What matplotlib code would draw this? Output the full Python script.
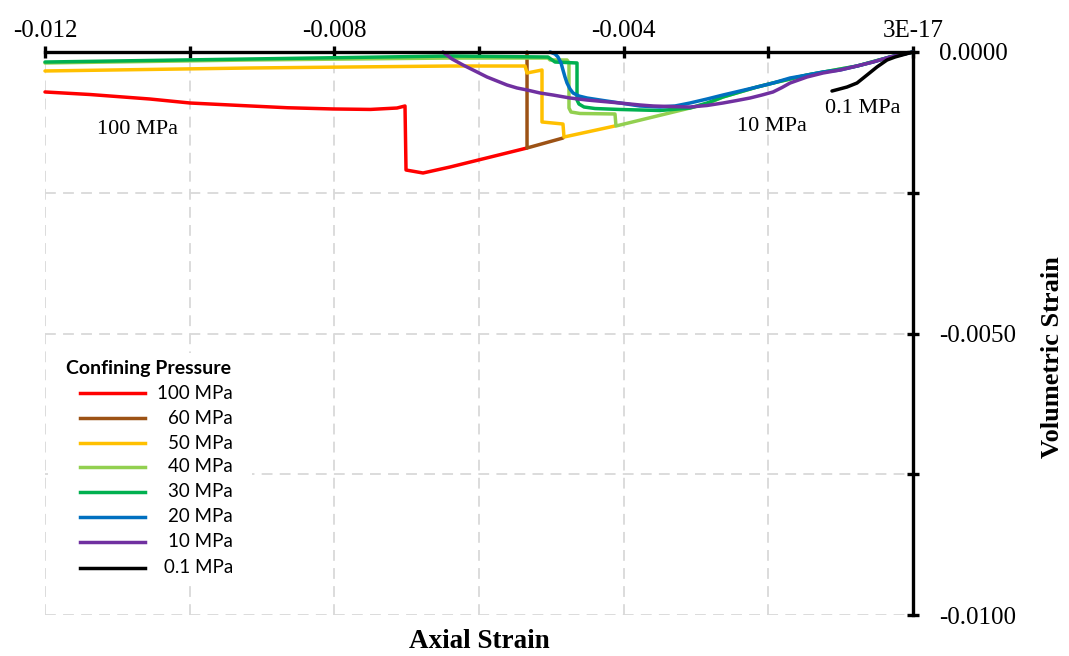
import matplotlib
matplotlib.use("Agg")
import matplotlib.pyplot as plt
from matplotlib.lines import Line2D
from matplotlib.patches import Rectangle

# Axial strain (x) / volumetric strain (y) for each confining pressure
p100_x = [-0.012000, -0.011378, -0.010550, -0.009995, -0.009300, -0.008650, -0.008018,
          -0.007500, -0.007134, -0.007023, -0.007009, -0.006774, -0.006401, -0.005336]
p100_y = [-0.000710, -0.000755, -0.000835, -0.000906, -0.000950, -0.000990, -0.001012,
          -0.001020, -0.000995, -0.000959, -0.002096, -0.002149, -0.002043, -0.001705]

p60_x = [-0.005336, -0.005336, -0.004839]
p60_y = [0.000000, -0.001705, -0.001528]

p50_x = [-0.012000, -0.009166, -0.006401, -0.005364, -0.005336, -0.005129, -0.005129,
         -0.004839, -0.004825, -0.004120]
p50_y = [-0.000337, -0.000284, -0.000249, -0.000249, -0.000373, -0.000320, -0.001243,
         -0.001279, -0.001510, -0.001314]

p40_x = [-0.012000, -0.009166, -0.006401, -0.005046, -0.005018, -0.004783, -0.004756,
         -0.004756, -0.004728, -0.004604, -0.004120, -0.004106, -0.003083, -0.002848,
         -0.002627, -0.002392, -0.002157, -0.001935, -0.001465, -0.000774, -0.000318,
         0.000000]
p40_y = [-0.000195, -0.000142, -0.000107, -0.000107, -0.000142, -0.000142, -0.000195,
         -0.000995, -0.001066, -0.001092, -0.001101, -0.001314, -0.000995, -0.000920,
         -0.000799, -0.000710, -0.000622, -0.000551, -0.000409, -0.000249, -0.000089,
         0.000000]

p30_x = [-0.012000, -0.009166, -0.006401, -0.005046, -0.004949, -0.004645, -0.004645,
         -0.004618, -0.004548, -0.004396, -0.004051, -0.003498, -0.003083, -0.002848,
         -0.002627, -0.002392, -0.002157, -0.001935, -0.001465, -0.000774, -0.000318,
         0.000000]
p30_y = [-0.000178, -0.000124, -0.000071, -0.000089, -0.000178, -0.000195, -0.000853,
         -0.000924, -0.000977, -0.001004, -0.001021, -0.001039, -0.000995, -0.000906,
         -0.000799, -0.000710, -0.000622, -0.000551, -0.000409, -0.000249, -0.000089,
         0.000000]

p20_x = [-0.005018, -0.004949, -0.004908, -0.004866, -0.004839, -0.004811, -0.004783,
         -0.004742, -0.004700, -0.004618, -0.004507, -0.004286, -0.004051, -0.003774,
         -0.003498, -0.003290, -0.003083, -0.002848, -0.002627, -0.002392, -0.002157,
         -0.001935, -0.001700, -0.001465, -0.001244, -0.001009, -0.000774, -0.000553,
         -0.000318, 0.000000]
p20_y = [0.000000, -0.000036, -0.000089, -0.000195, -0.000320, -0.000444, -0.000551,
         -0.000657, -0.000728, -0.000782, -0.000817, -0.000861, -0.000906, -0.000959,
         -0.000977, -0.000959, -0.000906, -0.000835, -0.000764, -0.000693, -0.000622,
         -0.000551, -0.000462, -0.000409, -0.000355, -0.000320, -0.000249, -0.000178,
         -0.000089, 0.000000]

p10_x = [-0.006498, -0.006373, -0.006221, -0.006055, -0.005889, -0.005751, -0.005613,
         -0.005475, -0.005336, -0.005157, -0.004977, -0.004742, -0.004507, -0.004286,
         -0.004051, -0.003774, -0.003594, -0.003359, -0.003083, -0.002848, -0.002627,
         -0.002433, -0.002253, -0.002088, -0.001935, -0.001811, -0.001700, -0.001465,
         -0.001244, -0.001009, -0.000774, -0.000553, -0.000318, 0.000000]
p10_y = [0.000000, -0.000124, -0.000231, -0.000337, -0.000444, -0.000515, -0.000586,
         -0.000639, -0.000675, -0.000728, -0.000764, -0.000817, -0.000853, -0.000879,
         -0.000906, -0.000941, -0.000959, -0.000968, -0.000977, -0.000950, -0.000906,
         -0.000861, -0.000817, -0.000764, -0.000710, -0.000631, -0.000551, -0.000444,
         -0.000373, -0.000320, -0.000249, -0.000178, -0.000089, 0.000000]

p01_x = [-0.001120, -0.000912, -0.000774, -0.000636, -0.000498, -0.000359, -0.000249, 0.000000]
p01_y = [-0.000693, -0.000622, -0.000551, -0.000409, -0.000266, -0.000142, -0.000089, 0.000000]

series_labels = ["100 MPa", "60 MPa", "50 MPa", "40 MPa", "30 MPa", "20 MPa", "10 MPa", "0.1 MPa"]
series_colors = ["#FF0000", "#9C5215", "#FFC000", "#92D050", "#00B050", "#0070C0", "#7030A0", "#000000"]
series_data = [(p100_x, p100_y), (p60_x, p60_y), (p50_x, p50_y), (p40_x, p40_y),
               (p30_x, p30_y), (p20_x, p20_y), (p10_x, p10_y), (p01_x, p01_y)]

x_ticks = [-0.012, -0.010, -0.008, -0.006, -0.004, -0.002, 0.0]
x_tick_labels = ["-0.012", "", "-0.008", "", "-0.004", "", "3E-17"]
y_ticks = [0.0, -0.0025, -0.005, -0.0075, -0.01]
y_tick_labels = ["0.0000", "", "-0.0050", "", "-0.0100"]

curve_notes = [("100 MPa", -0.010728, -0.001385),
               ("10 MPa", -0.001949, -0.001332),
               ("0.1 MPa", -0.000691, -0.000995)]

SERIF = "Liberation Serif"
SANS = "Lato"

fig = plt.figure(figsize=(10.69, 6.56), dpi=100)
ax = fig.add_axes([45 / 1069, 41 / 656, 868 / 1069, 563 / 656])

ax.set_xlim(-0.012, 0.0)
ax.set_ylim(-0.01, 0.0)

# grid
for xv in x_ticks[:-1]:
    ax.axvline(xv, color="#D9D9D9", lw=1.3, dashes=(6, 4), zorder=0)
for yv in y_ticks[1:]:
    ax.axhline(yv, color="#D9D9D9", lw=1.3, dashes=(6, 4), zorder=0)

# curves
for (xs, ys), c in zip(series_data, series_colors):
    ax.plot(xs, ys, color=c, lw=2.5, solid_joinstyle="round", solid_capstyle="round",
            clip_on=False, zorder=3)

# spines: axes drawn at top and right
for side in ("left", "bottom"):
    ax.spines[side].set_visible(False)
for side in ("top", "right"):
    ax.spines[side].set_linewidth(2.4)
    ax.spines[side].set_color("black")
    ax.spines[side].set_zorder(4)

ax.xaxis.set_ticks_position("top")
ax.xaxis.set_label_position("bottom")
ax.yaxis.set_ticks_position("right")
ax.yaxis.set_label_position("right")
ax.set_xticks(x_ticks)
ax.set_xticklabels(x_tick_labels, fontfamily=SERIF, fontsize=18)
ax.set_yticks(y_ticks)
ax.set_yticklabels(y_tick_labels, fontfamily=SERIF, fontsize=18)
ax.tick_params(axis="x", direction="inout", length=9, width=2.4, pad=3)
ax.tick_params(axis="y", direction="inout", length=9, width=2.4, pad=14)

ax.set_xlabel("Axial Strain", fontfamily=SERIF, fontsize=19.5, fontweight="bold", labelpad=10)
ax.set_ylabel("Volumetric Strain", fontfamily=SERIF, fontsize=19, fontweight="bold")
ax.yaxis.set_label_coords(1.148, 0.458)

for txt, xv, yv in curve_notes:
    ax.text(xv, yv, txt, fontfamily=SERIF, fontsize=16, ha="center", va="center", zorder=5)

# legend block
ax.add_patch(Rectangle((0.003, 0.055), 0.235, 0.41, transform=ax.transAxes,
                       facecolor="white", edgecolor="none", zorder=2))
ax.text(0.0242, 0.4387, "Confining Pressure", transform=ax.transAxes, fontfamily=SANS,
        fontsize=14, fontweight="bold", ha="left", va="center", zorder=6)
leg_y = [0.3943, 0.3499, 0.3055, 0.2629, 0.2185, 0.1741, 0.1297, 0.0835]
for lab, c, fy in zip(series_labels, series_colors, leg_y):
    ax.add_line(Line2D([0.0403, 0.1152], [fy, fy], transform=ax.transAxes, color=c,
                       lw=2.5, zorder=6))
    ax.text(0.2166, fy, lab, transform=ax.transAxes, fontfamily=SANS, fontsize=13.5,
            ha="right", va="center", zorder=6)

fig.savefig("out.png", dpi=100)
